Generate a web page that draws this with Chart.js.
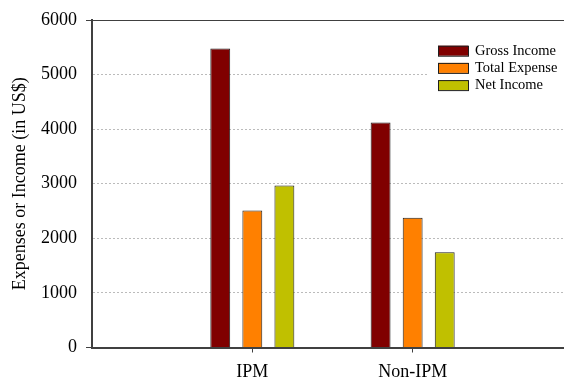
<!DOCTYPE html>
<html>
<head>
<meta charset="utf-8">
<title>Expenses or Income</title>
<script src="https://cdn.jsdelivr.net/npm/chart.js@4/dist/chart.umd.min.js"></script>
<style>
  html, body { margin: 0; padding: 0; background: #fff; overflow: hidden; }
  canvas { display: block; }
</style>
</head>
<body>
<canvas id="chart" width="564" height="381"></canvas>
<script>
// data
const categories = ["IPM", "Non-IPM"];
const grossIncome = [5480, 4120];
const totalExpense = [2510, 2375];
const netIncome = [2970, 1745];
const yTicks = [0, 1000, 2000, 3000, 4000, 5000, 6000];

const seriesNames = ["Gross Income", "Total Expense", "Net Income"];
const seriesColors = ["#800000", "#ff8000", "#c0c000"];

const FONT = "'Liberation Serif', 'Times New Roman', serif";
const AXIS = "#404040";

// bars sit on a linear x axis so the plot can run past the last group
function points(values) {
  return values.map((v, i) => ({ x: i + 1, y: v }));
}

function makeDataset(i, values) {
  return {
    label: seriesNames[i],
    data: points(values),
    backgroundColor: seriesColors[i],
    borderColor: "#1e1e1e",
    borderWidth: 1,
    categoryPercentage: 0.6,
    barPercentage: 0.62,
  };
}

// legend drawn inside the plot, on a white patch
const insideLegend = {
  id: "insideLegend",
  afterDraw(chart) {
    const ctx = chart.ctx;
    ctx.save();
    ctx.fillStyle = "#fff";
    ctx.fillRect(428, 36, 136, 62);
    ctx.font = "14.5px " + FONT;
    ctx.textBaseline = "middle";
    chart.data.datasets.forEach((ds, i) => {
      const cy = 50.7 + i * 17.2;
      ctx.fillStyle = ds.backgroundColor;
      ctx.fillRect(438, cy - 5, 30, 10);
      ctx.strokeStyle = "#1e1e1e";
      ctx.lineWidth = 1;
      ctx.strokeRect(438.5, cy - 4.5, 30, 10);
      ctx.fillStyle = "#000";
      ctx.fillText(ds.label, 475, cy + 0.5);
    });
    ctx.restore();
  },
};

const isEdge = (v) => v === yTicks[0] || v === yTicks[yTicks.length - 1];

new Chart(document.getElementById("chart"), {
  type: "bar",
  data: {
    datasets: [
      makeDataset(0, grossIncome),
      makeDataset(1, totalExpense),
      makeDataset(2, netIncome),
    ],
  },
  options: {
    responsive: false,
    animation: false,
    devicePixelRatio: 1,
    layout: { padding: { top: 20, left: 0, right: 0, bottom: 0 } },
    plugins: {
      legend: { display: false },
      tooltip: { enabled: false },
    },
    scales: {
      x: {
        type: "linear",
        offset: false,
        min: 0,
        max: 2.944,
        afterBuildTicks(scale) {
          scale.ticks = categories.map((c, i) => ({ value: i + 1 }));
        },
        afterFit(scale) {
          scale.height = 33.5;
        },
        ticks: {
          callback: (v) => categories[v - 1] || "",
          font: { family: FONT, size: 18 },
          color: "#000",
          padding: 9,
          maxRotation: 0,
          autoSkip: false,
        },
        grid: {
          offset: false,
          drawOnChartArea: false,
          drawTicks: true,
          tickLength: 5,
          tickColor: AXIS,
          tickWidth: 1,
        },
        border: { color: AXIS, width: 2 },
      },
      y: {
        min: yTicks[0],
        max: yTicks[yTicks.length - 1],
        afterBuildTicks(scale) {
          scale.ticks = yTicks.map((v) => ({ value: v }));
        },
        afterFit(scale) {
          scale.width = 92;
        },
        ticks: {
          callback: (v) => String(v),
          font: { family: FONT, size: 18 },
          color: "#000",
          padding: 9,
        },
        grid: {
          color: (ctx) => (isEdge(ctx.tick.value) ? AXIS : "#bbbbbb"),
          lineWidth: 1,
          tickLength: 6,
          tickColor: (ctx) => (isEdge(ctx.tick.value) ? AXIS : "rgba(0,0,0,0)"),
        },
        border: {
          color: AXIS,
          width: 2,
          dash: (ctx) => (ctx.tick && !isEdge(ctx.tick.value) ? [2, 2] : []),
        },
        title: {
          display: true,
          text: "Expenses or Income (in US$)",
          font: { family: FONT, size: 18 },
          color: "#000",
          padding: { top: 9, bottom: 0 },
        },
      },
    },
  },
  plugins: [insideLegend],
});
</script>
</body>
</html>
